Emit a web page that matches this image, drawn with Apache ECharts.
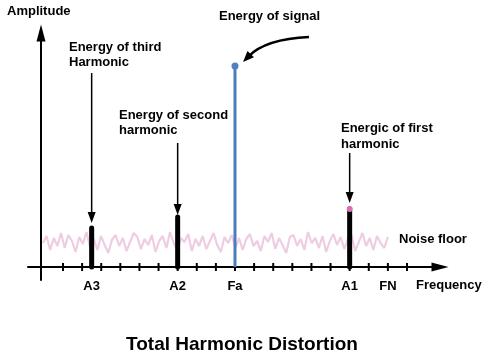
<!DOCTYPE html>
<html><head><meta charset="utf-8">
<script src="https://cdn.jsdelivr.net/npm/echarts@6/dist/echarts.min.js"></script>
<style>html,body{margin:0;padding:0;background:#fff}#c{width:498px;height:358px}</style>
</head><body><div id="c"></div>
<script>
// ---- data ----
const tickValues = [0,1,2,3,4,5,6,7,8,9,10,11,12,13,14,15,16,17,18];
const labelValues = [1.5, 6, 9, 15, 17];
const labelNames = ['A3', 'A2', 'Fa', 'A1', 'FN'];
const harmonicX = [1.5, 6, 15];          // A3, A2, A1
const harmonicAmp = [39, 50, 58];
const signalX = [9];                      // Fa
const signalAmp = [201];
const noiseStart = -1.05, noiseEnd = 17.0;
const noiseAmp = [24,31,17,29,21,34,19,32,26,15,30,23,35,20,28,17,31,22,14,27,32,21,29,16,25,34,30,18,28,22,32,15,26,31,19,35,24,17,29,25,33,16,28,21,31,18,26,34,22,15,30,24,32,19,29,17,28,33,21,26,16,31,25,34,18,29,22,14,30,32,21,28,17,35,24,29,19,31,15,26,33,22,30,18,28,32,16,25,34,21,29,17,31,24,19,30];
// annotation arrows: [x, from amplitude, to amplitude]
const arrowData = [[1.5, 194, 44], [6, 124, 52], [15, 114, 64]];
// curved arrow to signal: start, control, tip
const curveStart = [12.87, 230], curveCtrl = [10.6, 228], curveTip = [9.42, 205];

const F = 'Arial, "Liberation Sans", sans-serif';
const chart = echarts.init(document.getElementById('c'));
const noiseData = noiseAmp.map((v, i) => [noiseStart + i * (noiseEnd - noiseStart) / (noiseAmp.length - 1), v]);

function arrowHead(tip, from, len, w) {
  const dx = tip[0] - from[0], dy = tip[1] - from[1];
  const d = Math.sqrt(dx*dx + dy*dy) || 1;
  const ux = dx/d, uy = dy/d;
  const bx = tip[0] - ux*len, by = tip[1] - uy*len;
  return [[tip[0], tip[1]], [bx - uy*w/2, by + ux*w/2], [bx + uy*w/2, by - ux*w/2]];
}

chart.setOption({
  animation: false,
  grid: { left: 28, right: 58, top: 33, bottom: 78 },
  xAxis: {
    type: 'value', min: -1.831, max: 19.727, splitLine: {show: false},
    axisLine: { show: true, onZero: true, symbol: ['none', 'triangle'], symbolSize: [9, 17], lineStyle: { color: '#000', width: 2 } },
    axisTick: { show: false },
    axisLabel: { show: true, margin: 0, customValues: labelValues, color: '#000', fontFamily: F, fontWeight: 'bold', fontSize: 13,
      formatter: v => { const i = labelValues.findIndex(l => Math.abs(l - v) < 1e-6); return i >= 0 ? labelNames[i] : ''; } }
  },
  yAxis: {
    type: 'value', min: -13, max: 234, offset: -13,
    axisLine: { show: true, onZero: false, symbol: ['none', 'triangle'], symbolSize: [9, 17], lineStyle: { color: '#000', width: 2 } },
    axisTick: { show: false }, axisLabel: { show: false }, splitLine: { show: false }
  },
  series: [
    {
      type: 'custom', name: 'Ticks', z: 2,
      data: tickValues.map(v => [v, 0]),
      renderItem: (params, api) => {
        const p = api.coord([api.value(0), 0]);
        return { type: 'line', shape: { x1: p[0], y1: p[1] - 4, x2: p[0], y2: p[1] + 4 }, style: { stroke: '#000', lineWidth: 2 } };
      }
    },
    {
      type: 'line', name: 'Noise floor', data: noiseData, symbol: 'none', z: 1,
      lineStyle: { color: '#eecde3', width: 2.2 }
    },
    {
      type: 'custom', name: 'Harmonics', z: 3,
      data: harmonicX.map((x, i) => [x, harmonicAmp[i]]),
      renderItem: (params, api) => {
        const b = api.coord([api.value(0), 0]);
        const t = api.coord([api.value(0), api.value(1)]);
        return { type: 'line', shape: { x1: b[0], y1: b[1], x2: t[0], y2: t[1] }, style: { stroke: '#000', lineWidth: 5, lineCap: 'round' } };
      }
    },
    {
      type: 'custom', name: 'A1 marker', z: 4,
      data: [[harmonicX[2], harmonicAmp[2]]],
      renderItem: (params, api) => {
        const t = api.coord([api.value(0), api.value(1)]);
        return { type: 'circle', shape: { cx: t[0], cy: t[1], r: 3 }, style: { fill: '#d86fb4' } };
      }
    },
    {
      type: 'custom', name: 'Signal', z: 3,
      data: signalX.map((x, i) => [x, signalAmp[i]]),
      renderItem: (params, api) => {
        const b = api.coord([api.value(0), 0]);
        const t = api.coord([api.value(0), api.value(1)]);
        return { type: 'group', children: [
          { type: 'line', shape: { x1: b[0], y1: b[1], x2: t[0], y2: t[1] }, style: { stroke: '#4a7ebb', lineWidth: 3 } },
          { type: 'circle', shape: { cx: t[0], cy: t[1], r: 3.5 }, style: { fill: '#4f81bd' } }
        ] };
      }
    },
    {
      type: 'custom', name: 'Arrows', z: 5,
      data: arrowData,
      renderItem: (params, api) => {
        const s = api.coord([api.value(0), api.value(1)]);
        const e = api.coord([api.value(0), api.value(2)]);
        const head = arrowHead(e, s, 11, 8);
        return { type: 'group', children: [
          { type: 'line', shape: { x1: s[0], y1: s[1], x2: e[0], y2: e[1] - 8 }, style: { stroke: '#000', lineWidth: 1.5 } },
          { type: 'polygon', shape: { points: head }, style: { fill: '#000' } }
        ] };
      }
    },
    {
      type: 'custom', name: 'Curve arrow', z: 5,
      data: [[0]],
      renderItem: (params, api) => {
        const s = api.coord(curveStart), c = api.coord(curveCtrl), t = api.coord(curveTip);
        const head = arrowHead(t, c, 11, 9);
        const ux = t[0] - c[0], uy = t[1] - c[1], d = Math.sqrt(ux*ux+uy*uy);
        const end = [t[0] - ux/d*8, t[1] - uy/d*8];
        return { type: 'group', children: [
          { type: 'bezierCurve', shape: { x1: s[0], y1: s[1], x2: end[0], y2: end[1], cpx1: c[0], cpy1: c[1] }, style: { stroke: '#000', lineWidth: 2.5, fill: null } },
          { type: 'polygon', shape: { points: head }, style: { fill: '#000' } }
        ] };
      }
    }
  ],
  graphic: [
    { type: 'text', style: { x: 7, y: 11, text: 'Amplitude', font: 'bold 13px ' + F, fill: '#000', verticalAlign: 'middle' } },
    { type: 'text', style: { x: 219, y: 16, text: 'Energy of signal', font: 'bold 13px ' + F, fill: '#000', verticalAlign: 'middle' } },
    { type: 'text', style: { x: 69, y: 47, text: 'Energy of third', font: 'bold 13px ' + F, fill: '#000', verticalAlign: 'middle' } },
    { type: 'text', style: { x: 69, y: 62, text: 'Harmonic', font: 'bold 13px ' + F, fill: '#000', verticalAlign: 'middle' } },
    { type: 'text', style: { x: 119, y: 115, text: 'Energy of second', font: 'bold 13px ' + F, fill: '#000', verticalAlign: 'middle' } },
    { type: 'text', style: { x: 119, y: 130, text: 'harmonic', font: 'bold 13px ' + F, fill: '#000', verticalAlign: 'middle' } },
    { type: 'text', style: { x: 341, y: 128, text: 'Energic of first', font: 'bold 13px ' + F, fill: '#000', verticalAlign: 'middle' } },
    { type: 'text', style: { x: 341, y: 144, text: 'harmonic', font: 'bold 13px ' + F, fill: '#000', verticalAlign: 'middle' } },
    { type: 'text', style: { x: 399, y: 239, text: 'Noise floor', font: 'bold 13px ' + F, fill: '#000', verticalAlign: 'middle' } },
    { type: 'text', style: { x: 416, y: 285, text: 'Frequency', font: 'bold 13px ' + F, fill: '#000', verticalAlign: 'middle' } },
    { type: 'text', style: { x: 242, y: 345, text: 'Total Harmonic Distortion', font: 'bold 19px ' + F, fill: '#000', align: 'center', verticalAlign: 'middle' } }
  ]
});
</script></body></html>
